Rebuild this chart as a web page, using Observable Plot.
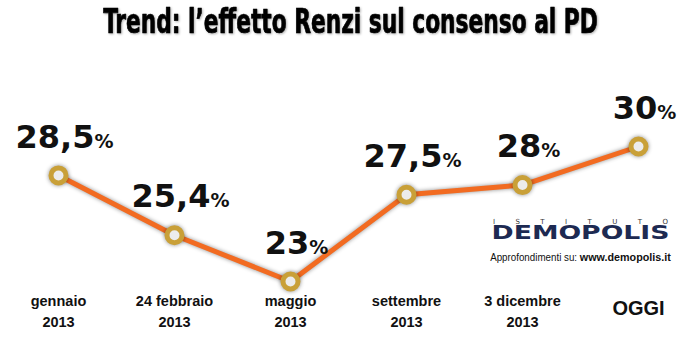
<!DOCTYPE html>
<html><head><meta charset="utf-8">
<script src="https://cdn.jsdelivr.net/npm/d3@7"></script>
<script src="https://cdn.jsdelivr.net/npm/@observablehq/plot@0.6"></script>
<style>body{margin:0;background:#fff}</style>
</head><body><div id="chart"></div>
<script>
const periods = ["gennaio\n2013", "24 febbraio\n2013", "maggio\n2013", "settembre\n2013", "3 dicembre\n2013", "OGGI"];
const consensus = [28.5, 25.4, 23, 27.5, 28, 30];
const valueLabels = ["28,5", "25,4", "23", "27,5", "28", "30"];
const titleText = "Trend: l’effetto Renzi sul consenso al PD";
const logoTop = "I S T I T U T O";
const logoName = "DEMOPOLIS";
const logoSub = "Approfondimenti su: ";
const logoUrl = "www.demopolis.it";

const data = periods.map((p, i) => ({period: p, value: consensus[i], label: valueLabels[i]}));
const shadow = "drop-shadow(0px 0px 2px rgba(0,0,0,0.45))";

const chart = Plot.plot({
  width: 700, height: 352, margin: 0,
  style: {background: "#fff"},
  x: {type: "point", domain: periods, range: [56, 640], padding: 0, axis: null},
  y: {domain: [23, 30], range: [281, 146], axis: null},
  marks: [
    Plot.line(data, {x: "period", y: "value", stroke: "#f26b21", strokeWidth: 5, imageFilter: shadow}),
    Plot.dot(data, {x: "period", y: "value", r: 7.5, fill: "#ececec", stroke: "#c9a038", strokeWidth: 5, imageFilter: shadow}),
    Plot.text(data, {x: "period", y: "value", text: d => d.label + "%", dy: -38, dx: 6, fontSize: 32, fontWeight: "bold", fontFamily: "DejaVu Sans", fill: "#111"}),
    Plot.text(data.filter(d => d.period !== "OGGI"), {x: "period", text: "period", frameAnchor: "bottom", dy: -61, lineAnchor: "top", fontSize: 14.5, fontWeight: "bold", lineHeight: 1.45, fontFamily: "Liberation Sans", fill: "#111"}),
    Plot.text(data.filter(d => d.period === "OGGI"), {x: "period", text: "period", frameAnchor: "bottom", dy: -44, lineAnchor: "middle", fontSize: 20, fontWeight: "bold", fontFamily: "Liberation Sans", fill: "#111"}),
    Plot.text([titleText], {text: d => d, frameAnchor: "top", dy: 32, lineAnchor: "middle", fontSize: 33, fontWeight: "bold", fontFamily: "'DejaVu Sans Condensed', 'Liberation Sans', sans-serif", fill: "#000", stroke: "#000", strokeWidth: 0.7, imageFilter: "drop-shadow(1px 1px 1px rgba(0,0,0,0.3))"}),
    Plot.text([logoName], {text: d => d, frameAnchor: "top-left", textAnchor: "middle", dx: 580, dy: 238, lineAnchor: "middle", fontSize: 20, fontWeight: "bold", fontFamily: "DejaVu Sans", fill: "#1d2a52"}),
    Plot.text([logoTop], {text: d => d, frameAnchor: "top-left", textAnchor: "middle", dx: 580, dy: 221, lineAnchor: "middle", fontSize: 7, fontFamily: "DejaVu Sans", fill: "#333"}),
    Plot.text([logoSub + logoUrl], {text: d => d, frameAnchor: "top-left", textAnchor: "middle", dx: 580, dy: 260, lineAnchor: "middle", fontSize: 10, fontFamily: "Liberation Sans", fill: "#111"})
  ]
});

document.getElementById("chart").append(chart);
const svg = d3.select(chart);
const byText = s => svg.selectAll("text").filter(function() { return this.textContent === s; });

function squeeze(node, target) {
  const w = node.getComputedTextLength();
  if (!w) return;
  const k = target / w;
  const x = +node.getAttribute("x") || 0, y = +node.getAttribute("y") || 0;
  node.removeAttribute("x"); node.removeAttribute("y");
  const t = node.getAttribute("transform") || "";
  node.setAttribute("transform", `${t} translate(${x},${y}) scale(${k},1)`);
}
function spread(node, target) {
  const n = node.textContent.length;
  const w = node.getComputedTextLength();
  if (!w) return;
  const ls = (target - w) / (n - 1);
  node.style.letterSpacing = ls + "px";
  node.setAttribute("dx", ls / 2);
}

valueLabels.forEach(v => {
  byText(v + "%").each(function() {
    const t = d3.select(this);
    t.text(v);
    t.append("tspan").attr("font-size", 19).text("%");
  });
});
byText(logoSub + logoUrl).each(function() {
  const t = d3.select(this);
  t.text(logoSub);
  t.append("tspan").attr("font-weight", "bold").attr("font-size", 11).text(logoUrl);
  squeeze(this, 181);
});
byText(titleText).each(function() { squeeze(this, 495); });
byText(logoName).each(function() { squeeze(this, 178); });
byText(logoTop).each(function() { spread(this, 175); });
</script>
</body></html>
